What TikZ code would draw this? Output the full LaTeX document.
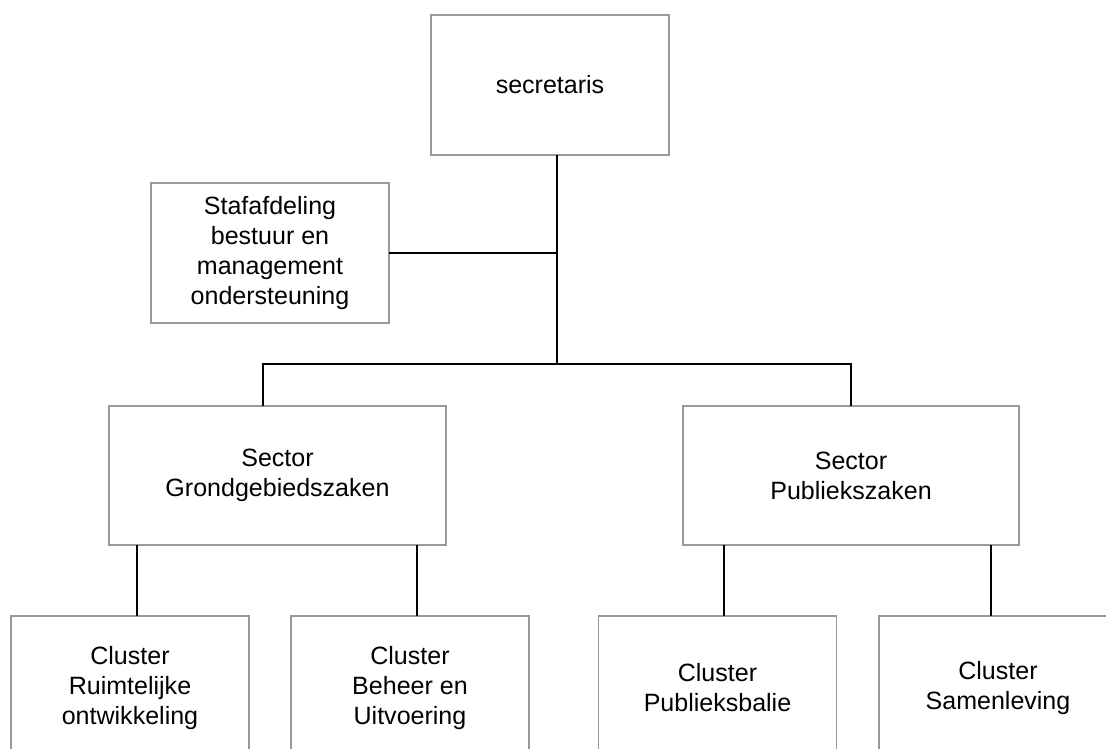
\documentclass[tikz,border=0pt]{standalone}
\usepackage{fontspec}
\setmainfont{Liberation Sans}
\usepackage{tikz}
\usetikzlibrary{positioning,calc}
\definecolor{boxgray}{RGB}{153,153,153}

\begin{document}
\begin{tikzpicture}[x=0.025cm, y=-0.025cm,
    unit/.style={draw=boxgray, line width=0.9pt, fill=white, align=center,
        inner sep=0pt, outer sep=0pt, minimum width=5.95cm, minimum height=3.5cm,
        font=\fontsize{17.8}{21.4}\selectfont},
    sector/.style={unit, minimum height=3.475cm},
    cluster/.style={unit, minimum height=3.6cm},
    link/.style={draw=black, line width=1pt}]
\clip (0,0) rectangle (1106,749);

% Boxes
\node[unit] (sec) at (550,85) {secretaris};
\node[unit] (staf) at (270,253) {Stafafdeling\\bestuur en\\management\\ondersteuning};
\node[sector, minimum width=8.425cm] (sg) at (277.5,475.5) {Sector\\Grondgebiedszaken};
\node[sector, minimum width=8.4cm] (sp) at (851,475.5) {Sector\\Publiekszaken};
\node[cluster] (c1) at (130,688) {Cluster\\Ruimtelijke\\ontwikkeling};
\node[cluster] (c2) at (410,688) {Cluster\\Beheer en\\Uitvoering};
\node[cluster] (c3) at (717.5,688) {Cluster\\Publieksbalie};
\node[cluster] (c4) at (998,688) {Cluster\\Samenleving};

% Lines
\coordinate (j) at (557,364);
\coordinate (bl) at (263,364);
\draw[link] (sec.south -| j) -- (j);
\draw[link] (staf.east) -- (staf.east -| j);
\draw[link] (sg.north -| bl) -- (bl) -- (sp.north |- bl) -- (sp.north);
\foreach \n/\s/\x in {c1/sg/137, c2/sg/417, c3/sp/724, c4/sp/991} {
    \path (\x,0) coordinate (tmp);
    \draw[link] (\s.south -| tmp) -- (\n.north -| tmp);
}
\end{tikzpicture}
\end{document}
